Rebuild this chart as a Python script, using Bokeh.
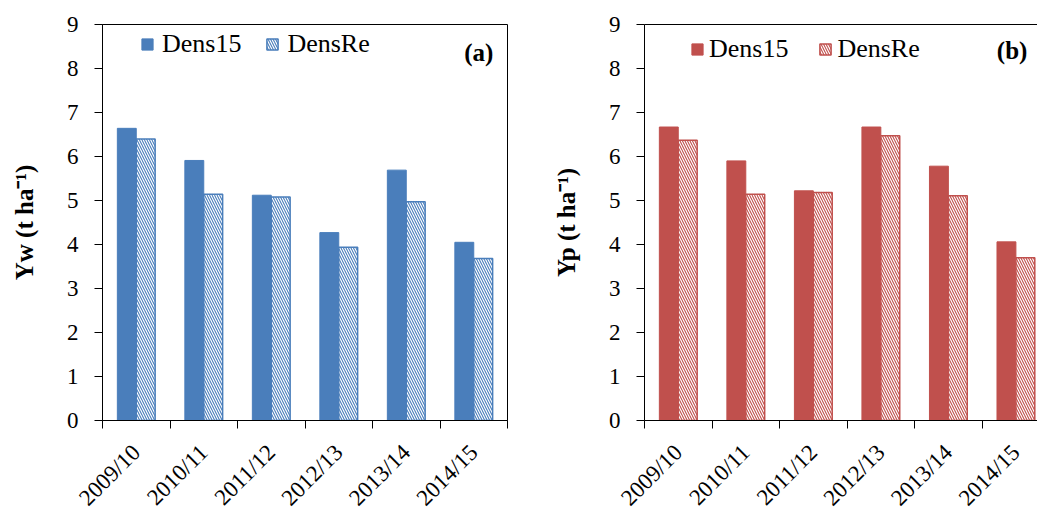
import math
from bokeh.plotting import figure
from bokeh.layouts import row
from bokeh.models import (ColumnDataSource, Range1d, FixedTicker, LinearAxis,
                          Label, Legend)
from bokeh.transform import dodge
from bokeh.embed import file_html
from bokeh.resources import INLINE

# ---------------- data ----------------
seasons = ["2009/10", "2010/11", "2011/12", "2012/13", "2013/14", "2014/15"]
yw_dens15 = [6.64, 5.91, 5.12, 4.27, 5.69, 4.05]
yw_densre = [6.40, 5.14, 5.08, 3.94, 4.97, 3.68]
yp_dens15 = [6.67, 5.90, 5.22, 6.67, 5.78, 4.06]
yp_densre = [6.37, 5.14, 5.18, 6.47, 5.11, 3.70]
y_ticks = [0, 1, 2, 3, 4, 5, 6, 7, 8, 9]

BLUE = "#4A7EBB"
RED = "#C0504D"
FONT = "Liberation Serif"


def make_panel(d15, dre, color, ylabel, tag, x_end, frame_w, frame_h,
               b_left, b_right, b_top, b_bottom, leg_loc, leg_standoff,
               leg_spacing, tag_x, tag_y, box):
    idx = list(range(len(seasons)))
    src = ColumnDataSource(dict(x=idx, d15=d15, dre=dre))
    p = figure(frame_width=frame_w, frame_height=frame_h,
               min_border_left=b_left, min_border_right=b_right,
               min_border_top=b_top, min_border_bottom=b_bottom,
               x_range=Range1d(-0.5, x_end), y_range=Range1d(0, 9),
               output_backend="svg", toolbar_location=None,
               background_fill_color="white", border_fill_color="white")
    p.xgrid.visible = False
    p.ygrid.visible = False

    r1 = p.vbar(x=dodge("x", -0.14, range=p.x_range), top="d15", width=0.28,
                source=src, fill_color=color, line_color=color, line_width=1)
    r2 = p.vbar(x=dodge("x", 0.14, range=p.x_range), top="dre", width=0.28,
                source=src, fill_color="white", line_color=color, line_width=1.5,
                hatch_pattern="\\", hatch_color=color, hatch_scale=5,
                hatch_weight=1.1)

    # x axis (bottom)
    xa = p.below[0]
    xa.ticker = FixedTicker(ticks=idx,
                            minor_ticks=[i - 0.5 for i in range(len(seasons) + 1)])
    xa.major_label_overrides = {i: s for i, s in enumerate(seasons)}
    xa.major_label_orientation = math.pi / 4
    xa.major_tick_line_color = None
    xa.major_tick_out = 0
    xa.minor_tick_line_color = "black"
    xa.minor_tick_out = 8
    xa.minor_tick_in = 0
    xa.major_label_standoff = 20
    xa.major_label_text_font = FONT
    xa.major_label_text_font_size = "23px"
    xa.major_label_text_color = "black"
    xa.axis_line_color = "black"

    # y axis
    ya = p.left[0]
    ya.ticker = FixedTicker(ticks=y_ticks)
    ya.minor_tick_line_color = None
    ya.major_tick_out = 8
    ya.major_tick_in = 0
    ya.major_tick_line_color = "black"
    ya.major_label_standoff = 16
    ya.major_label_text_font = FONT
    ya.major_label_text_font_size = "23px"
    ya.major_label_text_color = "black"
    ya.axis_line_color = "black"
    ya.axis_label = ylabel
    ya.axis_label_text_font = FONT
    ya.axis_label_text_font_style = "bold"
    ya.axis_label_text_font_size = "25px"
    ya.axis_label_text_color = "black"
    ya.axis_label_standoff = 26

    if box:
        p.outline_line_color = "black"
        p.outline_line_width = 1
    else:
        p.outline_line_color = None
        top = LinearAxis(ticker=FixedTicker(ticks=[]),
                         major_tick_line_color=None, minor_tick_line_color=None,
                         major_label_text_font_size="0px",
                         axis_line_color="black", axis_line_width=1)
        p.add_layout(top, "above")

    legend = Legend(items=[("Dens15", [r1]), ("DensRe", [r2])],
                    orientation="horizontal", location=leg_loc,
                    border_line_color=None, background_fill_alpha=0,
                    padding=0, margin=0, spacing=leg_spacing,
                    label_standoff=leg_standoff,
                    glyph_width=14, glyph_height=14,
                    label_text_font=FONT, label_text_font_size="26px",
                    label_text_color="black")
    p.add_layout(legend, "center")

    lab = Label(x=tag_x, y=tag_y, text=tag, text_font=FONT,
                text_font_style="bold", text_font_size="25px",
                text_align="right", text_baseline="middle",
                text_color="black")
    p.add_layout(lab)
    return p


left = make_panel(yw_dens15, yw_densre, BLUE, "Yw (t ha\u207b\u00b9)", "(a)",
                  5.5, 405, 396, 102, 13, 24, 94, (38, 361), 8, 24,
                  5.29, 8.36, True)
right = make_panel(yp_dens15, yp_densre, RED, "Yp (t ha\u207b\u00b9)", "(b)",
                   5.32, 393, 396, 124, 0, 24, 94, (46, 356), 5, 30,
                   5.17, 8.41, False)

layout = row(left, right)
open("out.html", "w").write(file_html(layout, INLINE))
